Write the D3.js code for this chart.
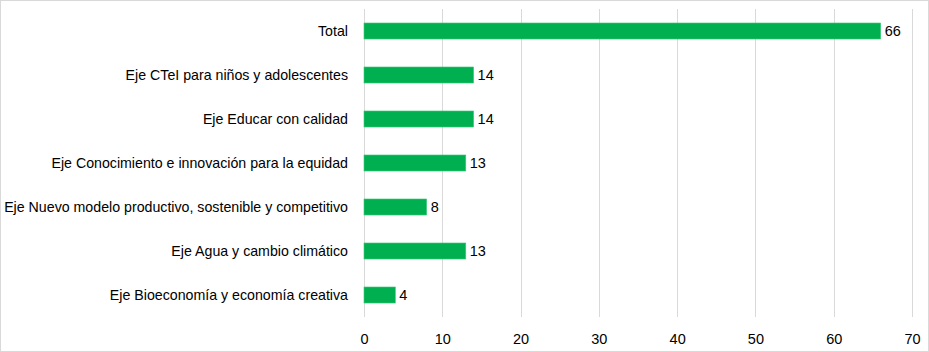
<!DOCTYPE html>
<html>
<head>
<meta charset="utf-8">
<script src="https://cdn.jsdelivr.net/npm/d3@7"></script>
<style>
  body { margin: 0; background: #fff; }
  text { font-family: "Liberation Sans", "DejaVu Sans", sans-serif; fill: #000; }
</style>
</head>
<body>
<div id="container"></div>
<script>
const WIDTH = 929;
const HEIGHT = 352;

const PLOT_LEFT = 364;
const PLOT_RIGHT = 912;
const PLOT_TOP = 9;
const PLOT_BOTTOM = 317;

// data
var categories = [
    "Total",
    "Eje CTeI para niños y adolescentes",
    "Eje Educar con calidad",
    "Eje Conocimiento e innovación para la equidad",
    "Eje Nuevo modelo productivo, sostenible y competitivo",
    "Eje Agua y cambio climático",
    "Eje Bioeconomía y economía creativa"
];
var values = [66, 14, 14, 13, 8, 13, 4];
var xTicks = [0, 10, 20, 30, 40, 50, 60, 70];

var translate = function (x, y) {
    return "translate(" + x + "," + y + ")";
};

var createChart = function () {
    var svg = d3.select("#container")
        .append("svg")
        .attr("width", WIDTH)
        .attr("height", HEIGHT);

    svg.append("rect")
        .attr("x", 0.5).attr("y", 0.5)
        .attr("width", WIDTH - 1).attr("height", HEIGHT - 1)
        .attr("fill", "#fff")
        .attr("stroke", "#d9d9d9");

    var xScale = d3.scaleLinear().domain([0, 70]).range([PLOT_LEFT, PLOT_RIGHT]);
    var yScale = d3.scaleBand().domain(categories)
        .range([PLOT_TOP, PLOT_BOTTOM])
        .paddingInner(0.636)
        .paddingOuter(0.318);

    // gridlines
    svg.append("g").selectAll("line").data(xTicks)
        .enter()
        .append("line")
        .attr("x1", function (d) { return Math.round(xScale(d)) + 0.5; })
        .attr("x2", function (d) { return Math.round(xScale(d)) + 0.5; })
        .attr("y1", PLOT_TOP)
        .attr("y2", PLOT_BOTTOM)
        .attr("stroke", "#d9d9d9")
        .attr("stroke-width", 1);

    // x axis labels
    var xAxis = d3.axisBottom(xScale).tickValues(xTicks).tickSize(0).tickPadding(17);
    var gx = svg.append("g")
        .attr("transform", translate(0, PLOT_BOTTOM))
        .call(xAxis);
    gx.select(".domain").remove();
    gx.selectAll("text")
        .style("font-family", "'Liberation Sans', sans-serif")
        .style("font-size", "14.5px")
        .attr("fill", "#000");

    // y axis labels
    var yAxis = d3.axisLeft(yScale).tickSize(0).tickPadding(16);
    var gy = svg.append("g")
        .attr("transform", translate(PLOT_LEFT, 0))
        .call(yAxis);
    gy.select(".domain").remove();
    gy.selectAll("text")
        .style("font-family", "'Liberation Sans', sans-serif")
        .style("font-size", "14.2px")
        .attr("fill", "#000");

    // bars
    svg.append("g").selectAll("rect").data(values)
        .enter()
        .append("rect")
        .attr("x", xScale(0))
        .attr("y", function (d, i) { return yScale(categories[i]); })
        .attr("width", function (d) { return xScale(d) - xScale(0); })
        .attr("height", yScale.bandwidth())
        .attr("fill", "#00b050")
        .attr("stroke", "#3cc878")
        .attr("stroke-width", 0.6);

    // value labels
    svg.append("g").selectAll("text").data(values)
        .enter()
        .append("text")
        .attr("x", function (d) { return xScale(d) + 4; })
        .attr("y", function (d, i) { return yScale(categories[i]) + yScale.bandwidth() / 2; })
        .attr("dy", "0.36em")
        .style("font-size", "14.5px")
        .text(function (d) { return d; });
};

window.onload = createChart;
</script>
</body>
</html>
